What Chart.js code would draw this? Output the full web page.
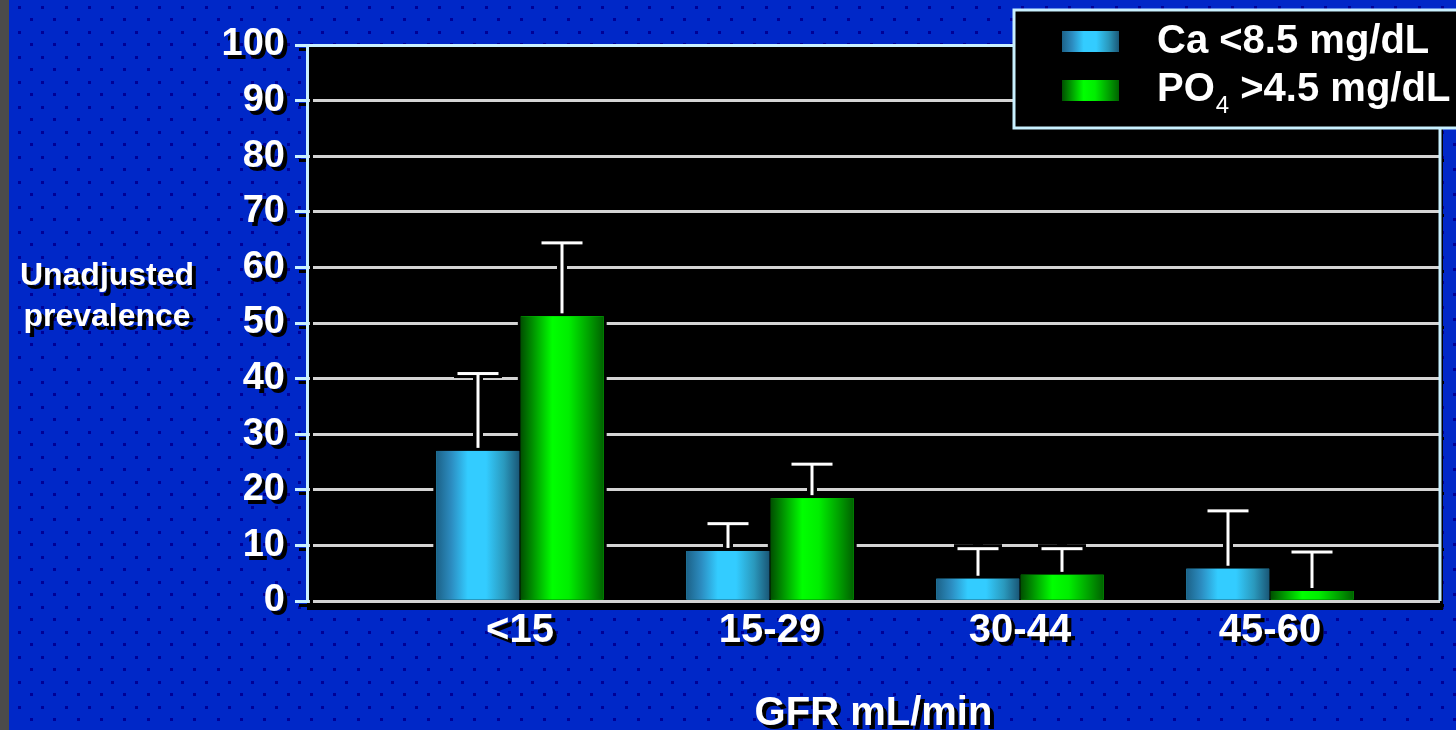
<!DOCTYPE html>
<html>
<head>
<meta charset="utf-8">
<script src="https://cdn.jsdelivr.net/npm/chart.js@4.4.0/dist/chart.umd.min.js"></script>
<style>
html, body { margin: 0; padding: 0; background: #0028c8; overflow: hidden; }
</style>
</head>
<body>
<canvas id="gfrChart" width="1456" height="730"></canvas>
<script>
// GFR groups and unadjusted prevalence (%)
const categories = ['<15', '15-29', '30-44', '45-60'];
const caLow = [27, 9, 4, 5.8];
const caLowErr = [41, 14, 9.5, 16.3];
const po4High = [51.2, 18.5, 4.7, 1.8];
const po4HighErr = [64.5, 24.7, 9.5, 8.9];
const yTicks = [0, 10, 20, 30, 40, 50, 60, 70, 80, 90, 100];

const FONT = '"Liberation Sans", Arial, sans-serif';
const frameColor = '#c8f0ff';

const caStops = [[0, '#1c6288'], [0.18, '#2c8cc0'], [0.38, '#33ccff'], [0.6, '#33ccff'], [0.82, '#2a98bc'], [1, '#1a5878']];
const poStops = [[0, '#005000'], [0.15, '#009400'], [0.38, '#00ff00'], [0.58, '#00ee00'], [0.82, '#00a000'], [1, '#006200']];

function grad(ctx, x0, x1, stops) {
    const g = ctx.createLinearGradient(x0, 0, x1, 0);
    stops.forEach(s => g.addColorStop(s[0], s[1]));
    return g;
}

const decor = {
    id: 'decor',
    beforeDraw(chart) {
        const {ctx, chartArea: a, width, height} = chart;
        ctx.save();
        ctx.fillStyle = '#0028c8';
        ctx.fillRect(0, 0, width, height);
        ctx.fillStyle = '#000096';
        for (let j = 0; j * 25 < height; j++) {
            for (let i = 0; i * 23.33 < width; i++) {
                ctx.fillRect(Math.round(18 + i * 23.33), Math.round(6 + j * 25), 3, 3);
                ctx.fillRect(Math.round(30 + i * 23.33), Math.round(18 + j * 25), 3, 3);
            }
        }
        ctx.fillStyle = '#4b4b4b';
        ctx.fillRect(0, 0, 9, height);
        ctx.fillStyle = '#000';
        ctx.fillRect(a.left, a.top, a.right - a.left + 3, a.bottom - a.top + 9);
        ctx.restore();
        // drop shadow for axis text and tick marks
        ctx.shadowColor = '#000';
        ctx.shadowOffsetX = 4;
        ctx.shadowOffsetY = 4;
        ctx.shadowBlur = 0;
    },
    beforeDatasetsDraw(chart) {
        const {ctx, chartArea: a} = chart;
        ctx.shadowColor = 'rgba(0,0,0,0)';
        ctx.shadowOffsetX = 0;
        ctx.shadowOffsetY = 0;
        ctx.save();
        // right frame
        ctx.strokeStyle = frameColor;
        ctx.lineWidth = 3;
        ctx.beginPath();
        ctx.moveTo(a.right, a.top);
        ctx.lineTo(a.right, a.bottom);
        ctx.stroke();
        // black halo round the bars cuts the grid lines
        ctx.fillStyle = '#000';
        chart.data.datasets.forEach((ds, i) => {
            chart.getDatasetMeta(i).data.forEach(el => {
                ctx.fillRect(el.x - el.width / 2 - 3, el.y - 3, el.width + 6, el.base - el.y + 1);
            });
        });
        ctx.restore();
    },
    afterDatasetsDraw(chart) {
        const {ctx, scales: {y}} = chart;
        ctx.save();
        chart.data.datasets.forEach((ds, i) => {
            chart.getDatasetMeta(i).data.forEach((el, j) => {
                const l = el.x - el.width / 2, r = el.x + el.width / 2;
                ctx.fillStyle = grad(ctx, l, r, ds.stops);
                ctx.fillRect(l, el.y, el.width, el.base - el.y);
                const top = y.getPixelForValue(ds.err[j]);
                const x = Math.round(el.x);
                ctx.fillStyle = '#000';
                ctx.fillRect(x - 5, top - 4, 10, el.y - top);
                ctx.fillRect(x - 24, top - 4, 48, 9);
                ctx.fillStyle = '#fff';
                ctx.fillRect(x - 1.5, top, 3, el.y - 3 - top);
                ctx.fillRect(x - 20.5, top - 1, 41, 3);
            });
        });
        ctx.restore();
    },
    afterDraw(chart) {
        const {ctx} = chart;
        ctx.save();
        // y axis title, horizontal
        ctx.shadowColor = '#000';
        ctx.shadowOffsetX = 4;
        ctx.shadowOffsetY = 4;
        ctx.fillStyle = '#fff';
        ctx.font = 'bold 32px ' + FONT;
        ctx.textAlign = 'center';
        ctx.textBaseline = 'alphabetic';
        ctx.fillText('Unadjusted', 107, 285);
        ctx.fillText('prevalence', 107, 326);
        ctx.shadowColor = 'rgba(0,0,0,0)';
        ctx.shadowOffsetX = 0;
        ctx.shadowOffsetY = 0;

        // legend box
        ctx.fillStyle = '#000';
        ctx.fillRect(1014, 10, 460, 118);
        ctx.strokeStyle = frameColor;
        ctx.lineWidth = 3;
        ctx.strokeRect(1014, 10, 460, 118);
        ctx.textAlign = 'left';
        chart.data.datasets.forEach((ds, i) => {
            const sy = 31 + i * 49;
            ctx.fillStyle = grad(ctx, 1062, 1119, ds.stops);
            ctx.fillRect(1062, sy, 57, 21);
            ctx.fillStyle = '#fff';
            const base = 53 + i * 48;
            let tx = 1157;
            const sub = ds.label.match(/^([A-Za-z]+)(\d)(.*)$/);
            ctx.font = 'bold 40px ' + FONT;
            if (sub) {
                ctx.fillText(sub[1], tx, base);
                tx += ctx.measureText(sub[1]).width + 1;
                ctx.font = '24px ' + FONT;
                ctx.fillText(sub[2], tx, base + 12);
                tx += ctx.measureText(sub[2]).width;
                ctx.font = 'bold 40px ' + FONT;
                ctx.fillText(sub[3], tx, base);
            } else {
                ctx.fillText(ds.label, tx, base);
            }
        });
        ctx.restore();
    }
};

const ctx = document.getElementById('gfrChart').getContext('2d');
const gfrChart = new Chart(ctx, {
    type: 'bar',
    data: {
        datasets: [{
            label: 'Ca <8.5 mg/dL',
            data: caLow.map((v, i) => ({x: i + 1, y: v})),
            err: caLowErr,
            stops: caStops,
            backgroundColor: '#33ccff',
            borderWidth: 0,
            categoryPercentage: 0.676,
            barPercentage: 0.98
        }, {
            label: 'PO4 >4.5 mg/dL',
            data: po4High.map((v, i) => ({x: i + 1, y: v})),
            err: po4HighErr,
            stops: poStops,
            backgroundColor: '#00ff00',
            borderWidth: 0,
            categoryPercentage: 0.676,
            barPercentage: 0.98
        }]
    },
    options: {
        responsive: false,
        animation: false,
        events: [],
        layout: {
            padding: {left: 0, top: 45, right: 16, bottom: 0}
        },
        plugins: {
            legend: {display: false},
            tooltip: {enabled: false}
        },
        scales: {
            x: {
                type: 'linear',
                min: 0.148,
                max: 4.68,
                offset: false,
                afterBuildTicks: scale => {
                    scale.ticks = categories.map((c, i) => ({value: i + 1}));
                },
                afterFit: scale => { scale.height = 129; },
                grid: {display: false, drawTicks: false},
                border: {display: false},
                ticks: {
                    autoSkip: false,
                    maxRotation: 0,
                    padding: 6,
                    color: '#fff',
                    font: {family: FONT, size: 40, weight: 'bold'},
                    callback: v => categories[Math.round(v) - 1]
                },
                title: {
                    display: true,
                    text: 'GFR mL/min',
                    color: '#fff',
                    padding: {top: 0, bottom: 0},
                    font: {family: FONT, size: 40, weight: 'bold', lineHeight: 0.8}
                }
            },
            y: {
                min: 0,
                max: 100,
                afterBuildTicks: scale => {
                    scale.ticks = yTicks.map(v => ({value: v}));
                },
                afterFit: scale => { scale.width = 307; },
                grid: {
                    color: c => c.tick && c.tick.value === 100 ? frameColor : '#d4d4d4',
                    tickColor: frameColor,
                    lineWidth: 3,
                    tickLength: 12
                },
                border: {color: frameColor, width: 3},
                ticks: {
                    padding: 10,
                    color: '#fff',
                    font: {family: FONT, size: 38, weight: 'bold'}
                }
            }
        }
    },
    plugins: [decor]
});
</script>
</body>
</html>
